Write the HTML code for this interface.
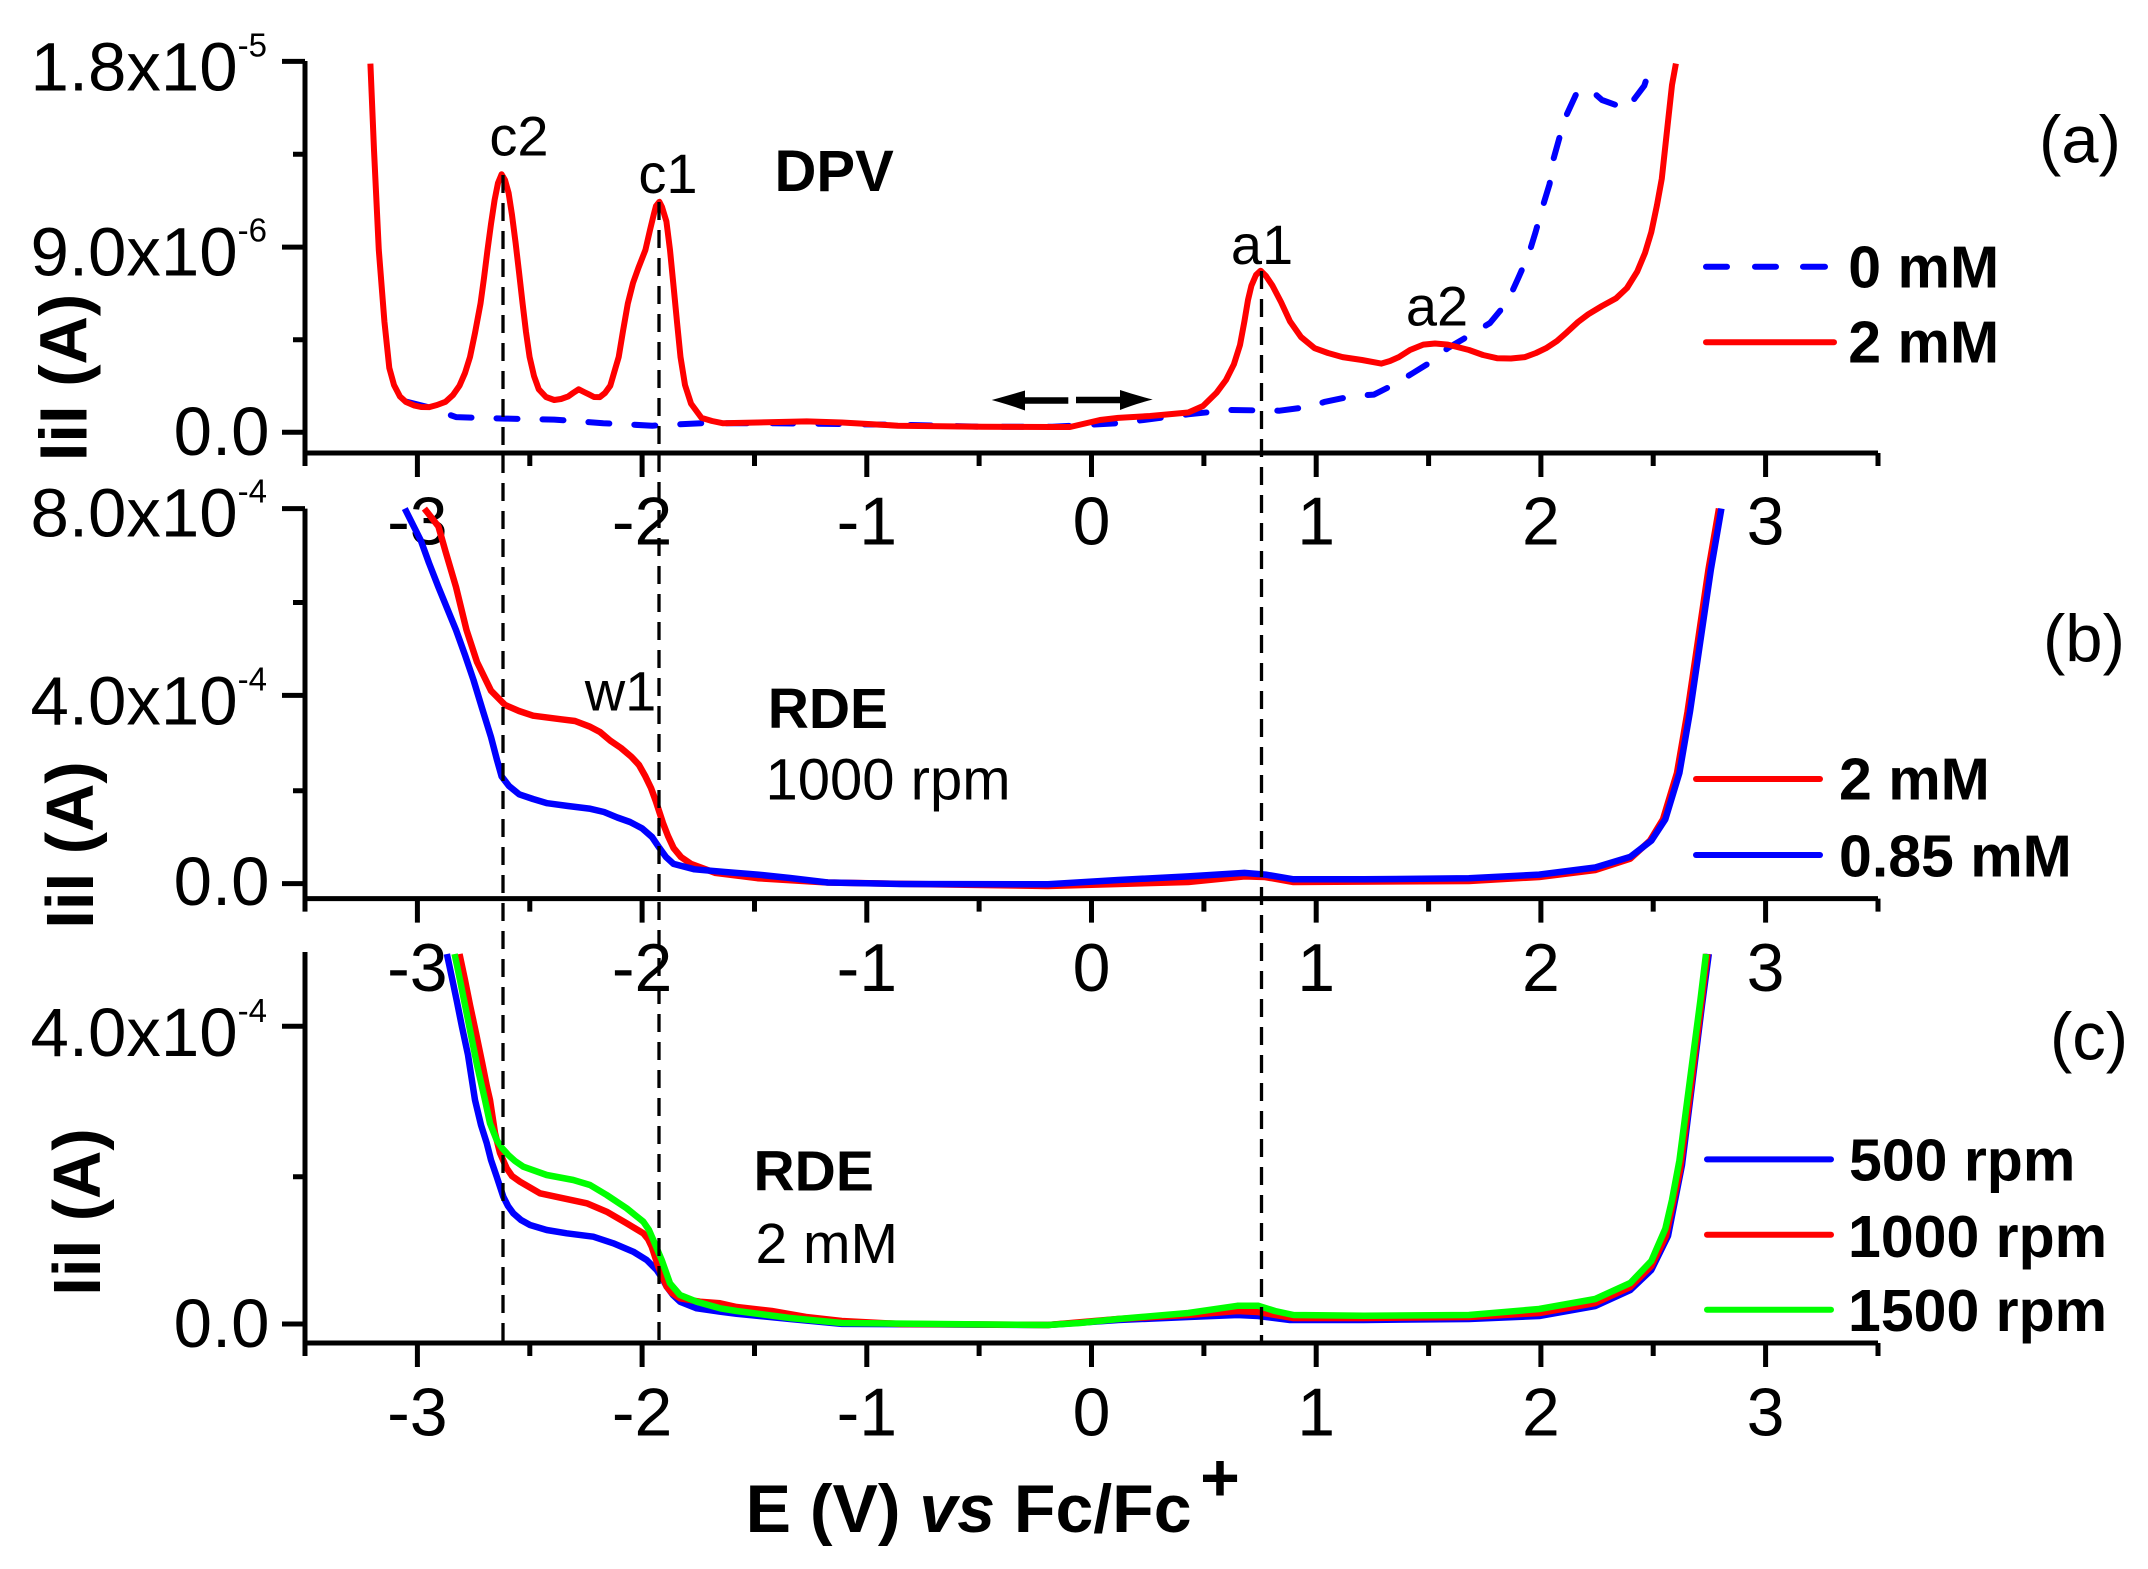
<!DOCTYPE html>
<html>
<head>
<meta charset="utf-8">
<style>
  html,body{margin:0;padding:0;background:#fff;}
  svg{display:block;}
  text{font-family:"Liberation Sans",Arial,sans-serif;fill:#000;}
</style>
</head>
<body>
<svg width="2148" height="1569" viewBox="0 0 2148 1569" xmlns="http://www.w3.org/2000/svg">
<rect width="2148" height="1569" fill="#fff"/>

<!-- ================= AXES ================= -->
<g stroke="#000" stroke-width="5" fill="none">
  <!-- panel a -->
  <path d="M305 61V453H1878" stroke-linejoin="miter"/>
  <path d="M417.4 453v24M642.1 453v24M866.8 453v24M1091.5 453v24M1316.2 453v24M1540.9 453v24M1765.6 453v24M305 453v13M529.8 453v13M754.5 453v13M979.1 453v13M1203.9 453v13M1428.6 453v13M1653.2 453v13M1878 453v13"/>
  <path d="M282 432.3h23M282 247.1h23M282 61.4h23M293 339.7h12M293 154.3h12"/>
  <!-- panel b -->
  <path d="M305 508.6V898.6H1878" stroke-linejoin="miter"/>
  <path d="M417.4 898.6v24M642.1 898.6v24M866.8 898.6v24M1091.5 898.6v24M1316.2 898.6v24M1540.9 898.6v24M1765.6 898.6v24M305 898.6v13M529.8 898.6v13M754.5 898.6v13M979.1 898.6v13M1203.9 898.6v13M1428.6 898.6v13M1653.2 898.6v13M1878 898.6v13"/>
  <path d="M282 883.6h23M282 695.4h23M282 508.6h23M293 790.7h12M293 602.5h12"/>
  <!-- panel c -->
  <path d="M305 952V1343H1878" stroke-linejoin="miter"/>
  <path d="M417.4 1343v24M642.1 1343v24M866.8 1343v24M1091.5 1343v24M1316.2 1343v24M1540.9 1343v24M1765.6 1343v24M305 1343v13M529.8 1343v13M754.5 1343v13M979.1 1343v13M1203.9 1343v13M1428.6 1343v13M1653.2 1343v13M1878 1343v13"/>
  <path d="M282 1324h23M282 1026.2h23M293 1176.7h12"/>
</g>

<!-- ================= TICK LABELS ================= -->
<g font-size="69" text-anchor="end">
  <text x="267" y="90.5">1.8x10<tspan dy="-34" font-size="33">-5</tspan></text>
  <text x="267" y="275.5">9.0x10<tspan dy="-34" font-size="33">-6</tspan></text>
  <text x="269.5" y="455">0.0</text>
  <text x="267" y="536.7">8.0x10<tspan dy="-34" font-size="33">-4</tspan></text>
  <text x="267" y="724.6">4.0x10<tspan dy="-34" font-size="33">-4</tspan></text>
  <text x="269.5" y="905">0.0</text>
  <text x="267" y="1056">4.0x10<tspan dy="-34" font-size="33">-4</tspan></text>
  <text x="269.5" y="1347">0.0</text>
</g>
<g font-size="68" text-anchor="middle">
  <text x="417.4" y="544.5">-3</text><text x="642.1" y="544.5">-2</text><text x="866.8" y="544.5">-1</text><text x="1091.5" y="544.5">0</text><text x="1316.2" y="544.5">1</text><text x="1540.9" y="544.5">2</text><text x="1765.6" y="544.5">3</text>
  <text x="417.4" y="991">-3</text><text x="642.1" y="991">-2</text><text x="866.8" y="991">-1</text><text x="1091.5" y="991">0</text><text x="1316.2" y="991">1</text><text x="1540.9" y="991">2</text><text x="1765.6" y="991">3</text>
  <text x="417.4" y="1435.5">-3</text><text x="642.1" y="1435.5">-2</text><text x="866.8" y="1435.5">-1</text><text x="1091.5" y="1435.5">0</text><text x="1316.2" y="1435.5">1</text><text x="1540.9" y="1435.5">2</text><text x="1765.6" y="1435.5">3</text>
</g>

<!-- ================= AXIS TITLES ================= -->
<g font-size="67" font-weight="bold" text-anchor="middle">
  <text transform="translate(86.7,377.5) rotate(-90)">IiI (A)</text>
  <text transform="translate(93,845) rotate(-90)">IiI (A)</text>
  <text transform="translate(100,1212) rotate(-90)">IiI (A)</text>
</g>
<text x="745.6" y="1532" font-size="68" font-weight="bold">E (V) <tspan font-style="italic">vs</tspan> Fc/Fc</text>
<text x="1220" y="1501" font-size="68" font-weight="bold" text-anchor="middle">+</text>

<!-- ================= PANEL A CURVES ================= -->
<path d="M406.9,401.8 L427.9,407.1 L456,417.1 L505.1,418.6 L554.2,419.6 L603.3,423.2 L652.4,425.7 L701.5,423.2 L771.7,423.2 L841.8,424 L912,425 L982.1,426.8 L1052.3,426.8 L1118.2,423.2 L1188.3,414.3 L1230.4,410 L1279.5,410.7 L1307.6,407 L1325,401.8 L1353,396 L1374,394.6 L1395,384 L1413,373 L1430,362.5 L1448,348 L1469,335.7 L1490,323 L1507.5,301.8 L1518,278.6 L1528.5,255 L1535.6,232 L1542.6,207 L1549.6,184 L1553,160.7 L1560,135.7 L1567,114 L1577.6,91 L1591.7,91 L1602,100 L1616,105 L1626.7,109 L1635,98 L1644.3,85.7 L1651.3,64.3"
 fill="none" stroke="#0000ff" stroke-width="6" stroke-dasharray="21 25" stroke-linecap="round" stroke-linejoin="round"/>
<path d="M370.4,63.6 L374,150 L378.8,250 L384.4,321.4 L389.3,367.9 L394,385 L399.9,396.4 L406,402 L413.9,405.4 L421,407 L429.3,407.1 L437,405 L445.5,401.8 L453,395 L459.5,385.7 L465,373 L470,357 L475,333 L480.5,303.6 L484,278 L487.5,250 L491,224 L494.6,200 L498,183 L501.6,174.3 L505,180 L508.6,192.9 L512,215 L515.6,242.9 L519,272 L522.6,303.6 L526,332 L529.6,357 L534,376 L538.8,389.3 L546,397 L554.2,400 L561,399 L568.2,396.4 L573,393 L578.7,389.3 L584,392 L589.3,394.6 L594,397 L599.8,397.1 L605,393 L610.3,385.7 L614,373 L618.7,357 L623,331 L627.8,303.6 L633,283 L638.4,267.9 L645.4,250 L650,230 L653.8,214.3 L656,206 L659.4,201.8 L662,207 L666.4,221.4 L670,250 L673.5,285.7 L677,322 L680.5,357 L685,385 L691,403.6 L701.5,417.9 L712,421 L722.6,423.2 L757.6,422.5 L806.7,421.4 L841.8,422.5 L897.9,425.7 L982.1,426.8 L1052.3,427 L1070,427 L1100,420 L1118.2,417.9 L1150,416 L1188.3,412.5 L1203,406 L1216.4,392.9 L1226,380 L1233.9,364.3 L1240,345 L1244.4,321.4 L1248,300 L1251.4,285.7 L1256,275 L1260.6,270.7 L1266,276 L1272.5,285.7 L1281,302 L1290,321.4 L1301,337 L1314.6,348.2 L1328,353 L1342.6,357.1 L1362,360 L1381.2,363.6 L1390,361 L1398.8,357.1 L1410,350 L1423.3,344.6 L1435,343.5 L1447.9,344.6 L1469,350 L1483,355 L1497,358.2 L1511,358.5 L1525,357.1 L1536,353 L1546,348.2 L1557,341 L1567.1,332.1 L1578,322 L1588.2,314.3 L1602,306 L1616.2,298.2 L1627,288 L1637.3,271.4 L1645,253 L1651.3,232.1 L1657,205 L1661.8,178.6 L1666,140 L1668.8,114.3 L1672,85 L1675.9,63.6"
 fill="none" stroke="#ff0000" stroke-width="6" stroke-linejoin="round"/>

<!-- ================= PANEL B CURVES ================= -->
<path d="M424.4,508.6 L438.4,526.4 L445.5,551.4 L456,587 L466.5,630 L477,662 L491,690.7 L505.1,705 L519,711 L533.1,715.7 L561.2,719.3 L575,721 L589.3,726.4 L600,732 L610.3,740.7 L621,748 L631.4,756.8 L639,765 L645.4,776.4 L651,788 L655.9,801.4 L662.9,822.9 L668,836 L673.5,847.9 L681,857 L691,863.9 L715.5,872.9 L757.6,878.2 L827.8,882.5 L912,884 L1048,886 L1118.2,884 L1188.3,882 L1244.4,876.4 L1265,877 L1293.5,882 L1468.9,881 L1539.1,877 L1595.2,870 L1630.3,858.6 L1650,840.7 L1663,819.3 L1677,772.9 L1687.5,712 L1698,640.7 L1708.5,569.3 L1719,508.6"
 fill="none" stroke="#ff0000" stroke-width="6.5" stroke-linejoin="round"/>
<path d="M404.8,508.6 L420.9,540.7 L429,563 L438.4,587.1 L456,630 L465,655 L473.5,680 L482,708 L491,737.1 L497,760 L501.6,776.4 L509,786 L519.1,794.3 L533,799 L547.2,803.2 L568,806 L589.3,808.6 L604,812 L617.3,817.5 L630,822 L641.9,828.2 L652,837 L659.4,847.9 L666,857 L673.5,863.9 L694.5,869.3 L725,872 L757.6,874.6 L790,878 L827.8,882.5 L900,884 L1048,884.3 L1118.2,880 L1188.3,876.4 L1244.4,872.9 L1265.5,874.6 L1293.5,879.3 L1363.7,879.3 L1468.9,878.2 L1539.1,874.6 L1595.2,867.5 L1630.3,856.8 L1651.3,840.7 L1665.3,819.3 L1679.4,772.9 L1689.9,712.1 L1700.4,640.7 L1710.9,569.3 L1721.4,508.6"
 fill="none" stroke="#0000ff" stroke-width="6.5" stroke-linejoin="round"/>

<!-- ================= PANEL C CURVES ================= -->
<path d="M446.9,954 L452,978 L457,1002 L462,1027 L468,1055 L475,1100 L481,1125 L486.7,1143 L491,1160 L496.7,1176.7 L503.3,1196.7 L508,1206 L513.3,1213.3 L521,1220 L530,1225 L546.7,1230 L566.7,1233.3 L593.3,1236.7 L613.3,1243.3 L633.3,1251.7 L646.7,1260 L656.7,1270 L662,1278 L666.7,1286.7 L673,1295 L680,1301.7 L696.7,1308.3 L720,1311.7 L736.6,1313.8 L790,1319 L841.8,1323.9 L1048,1325 L1118.2,1320 L1188.3,1317 L1237.4,1315 L1258,1316 L1290,1320 L1363.7,1320 L1468.9,1319 L1539.1,1316 L1595.2,1306 L1630.3,1290 L1651.3,1270 L1668,1236 L1682,1165 L1692,1085 L1702,1005 L1708.8,954"
 fill="none" stroke="#0000ff" stroke-width="6.5" stroke-linejoin="round"/>
<path d="M459.5,954 L465,980 L470,1005 L476,1033 L482,1062 L487,1087 L490,1100 L495,1133 L500,1153 L506.7,1168.3 L512,1176 L520,1181.7 L540,1193.3 L563.3,1198.3 L586.7,1203.3 L606.7,1211.7 L626.7,1223.3 L643.3,1233.3 L648,1239 L651.7,1246.7 L658.3,1266.7 L666.7,1286.7 L672,1293 L680,1298.3 L700,1301.7 L720,1303.3 L736.6,1307 L771.7,1311 L806,1317 L841.8,1321 L900,1324 L1048,1325 L1118,1319 L1188,1315 L1237.4,1311 L1258,1312 L1293.5,1318 L1363.7,1318 L1468.9,1317 L1539.1,1313 L1595.2,1303 L1630.3,1287 L1651.3,1266 L1666,1236 L1680,1170 L1690.5,1090 L1700.5,1010 L1707.4,954"
 fill="none" stroke="#ff0000" stroke-width="6.5" stroke-linejoin="round"/>
<path d="M454.6,954 L460,980 L465,1005 L471,1035 L477,1065 L485,1100 L490,1123.3 L496.7,1140 L502,1148 L508.3,1155 L515,1161 L523.3,1166.7 L546.7,1175 L573.3,1180 L590,1185 L606.7,1195 L626.7,1208.3 L643.3,1221.7 L649,1230 L653.3,1240 L661.7,1260 L670,1283.3 L680,1295 L696.7,1301.7 L720,1308.3 L736.6,1311 L790,1318 L841.8,1323 L1048,1325 L1080,1323 L1118.2,1319 L1188.3,1313 L1237.4,1305.8 L1258.5,1305.8 L1275,1311 L1293.5,1315 L1363.7,1315.8 L1468.9,1315 L1539.1,1309 L1595.2,1299 L1630.3,1283 L1651.3,1261 L1665.3,1228.8 L1672,1200 L1679.4,1160.6 L1689.9,1080.4 L1700.4,1000.2 L1706,954"
 fill="none" stroke="#00ff00" stroke-width="6.5" stroke-linejoin="round"/>

<!-- ================= DASHED GUIDE LINES ================= -->
<g stroke="#000" stroke-width="3.3" stroke-dasharray="18 10" fill="none">
  <path d="M503 175V1343"/>
  <path d="M659 202V1343"/>
  <path d="M1261.5 271V1343"/>
</g>

<!-- ================= ARROW ================= -->
<g fill="#000" stroke="none">
  <path d="M991.7,400 Q1010,395 1025,390.5 L1025,410.5 Q1010,405 991.7,400 Z"/>
  <path d="M1152.7,399.5 Q1135,395 1120,390 L1120,410 Q1135,404 1152.7,399.5 Z"/>
</g>
<g stroke="#000" stroke-width="6.5" fill="none">
  <path d="M1023 400.5H1068.3M1076 400H1122"/>
</g>

<!-- ================= ANNOTATIONS ================= -->
<g font-size="56" text-anchor="middle">
  <text x="519" y="155.4">c2</text>
  <text x="668" y="193">c1</text>
  <text x="1262" y="264">a1</text>
  <text x="1437" y="325.7">a2</text>
  <text x="620.5" y="710.7">w1</text>
</g>
<text x="774.5" y="191" font-size="58" font-weight="bold">DPV</text>
<text x="767.7" y="728" font-size="57" font-weight="bold">RDE</text>
<text x="765.5" y="799.6" font-size="58">1000 rpm</text>
<text x="753.5" y="1190.7" font-size="57" font-weight="bold">RDE</text>
<text x="755.5" y="1263" font-size="57">2 mM</text>

<!-- panel labels -->
<g font-size="67">
  <text x="2039" y="162.4">(a)</text>
  <text x="2043" y="661.6">(b)</text>
  <text x="2050" y="1059.6">(c)</text>
</g>

<!-- ================= LEGENDS ================= -->
<g fill="none" stroke-width="6" stroke-linecap="round">
  <path d="M1706 266.7H1727M1755 266.7H1776M1803 266.7H1825" stroke="#0000ff"/>
  <path d="M1706 342.3H1834" stroke="#ff0000"/>
  <path d="M1696 779H1820" stroke="#ff0000"/>
  <path d="M1696 855H1820" stroke="#0000ff"/>
  <path d="M1707 1159.4H1831" stroke="#0000ff"/>
  <path d="M1707 1234.8H1831" stroke="#ff0000"/>
  <path d="M1707 1309.8H1831" stroke="#00ff00"/>
</g>
<g font-size="59" font-weight="bold">
  <text x="1848.3" y="287.7">0 mM</text>
  <text x="1848.3" y="362.7">2 mM</text>
  <text x="1839" y="799.6">2 mM</text>
  <text x="1839" y="876.4">0.85 mM</text>
  <text x="1849" y="1180.7">500 rpm</text>
  <text x="1848" y="1257">1000 rpm</text>
  <text x="1848" y="1331">1500 rpm</text>
</g>
</svg>
</body>
</html>
